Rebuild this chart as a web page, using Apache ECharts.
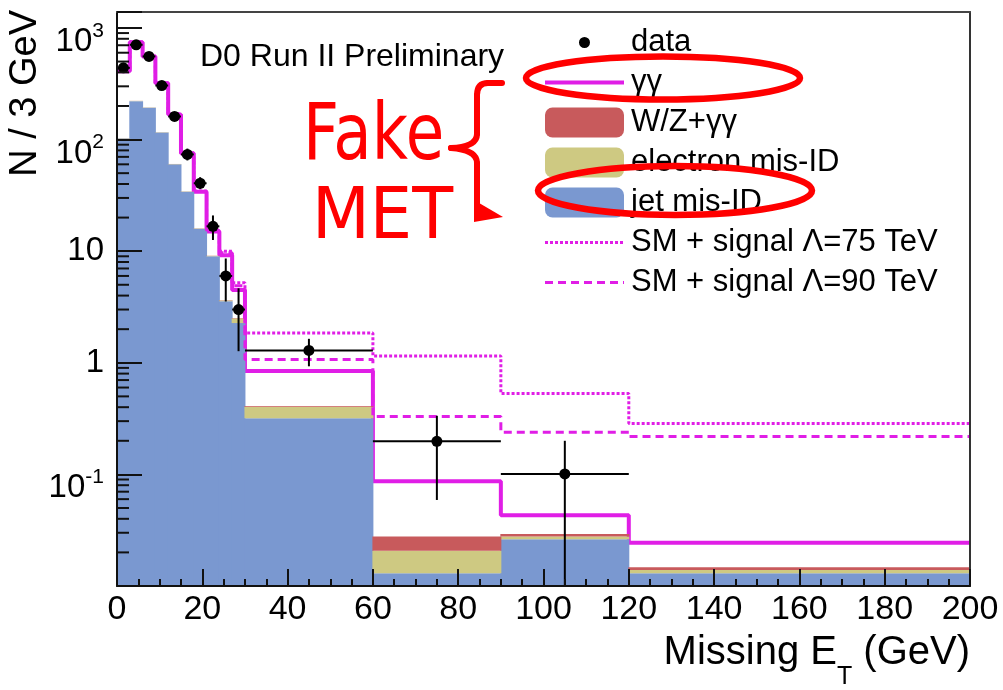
<!DOCTYPE html>
<html><head><meta charset="utf-8">
<script src="https://cdn.jsdelivr.net/npm/echarts@6/dist/echarts.min.js"></script>
<style>html,body{margin:0;padding:0;background:#fff}#c{width:1003px;height:690px}</style>
</head><body><div id="c"></div><script>
// ---- data ----
const BIN_EDGES = [0, 3, 6, 9, 12, 15, 18, 21, 24, 27, 30, 60, 90, 120, 200];
const JET_MISID = [102, 221, 193, 116, 60, 34, 15.9, 9.0, 3.56, 2.27, 0.319, 0.0130, 0.0262, 0.0130];
const ELECTRON_MISID = [0.6, 1.2, 1.0, 0.6, 0.35, 0.2, 0.12, 0.08, 0.06, 0.23, 0.084, 0.0077, 0.0015, 0.0009];
const WZ_GG = [0.15, 0.3, 0.25, 0.15, 0.1, 0.06, 0.04, 0.03, 0.02, 0.02, 0.008, 0.007, 0.0015, 0.0008];
const GG_TOTAL = [410, 745, 556, 320, 168, 75, 34, 15, 9.2, 4.5, 0.843, 0.0866, 0.0431, 0.0244];
const SIGNAL_75 = [412, 748, 559, 322, 170, 76, 34.6, 15.6, 10.0, 5.2, 1.85, 1.15, 0.53, 0.286];
const SIGNAL_90 = [411, 747, 558, 321, 169, 75.5, 34.3, 15.3, 9.7, 4.9, 1.07, 0.331, 0.238, 0.218];
const DATA_X = [1.5, 4.5, 7.5, 10.5, 13.5, 16.5, 19.5, 22.5, 25.5, 28.5, 45, 75, 105];
const DATA_XLO = [0, 3, 6, 9, 12, 15, 18, 21, 24, 27, 30, 60, 90];
const DATA_XHI = [3, 6, 9, 12, 15, 18, 21, 24, 27, 30, 60, 90, 120];
const DATA_Y = [439, 707, 556, 305, 161, 73.6, 40.6, 16.7, 6.0, 3.0, 1.29, 0.198, 0.101];
const DATA_LO = [418, 680, 533, 288, 149, 65, 36, 12.6, 3.54, 1.27, 0.93, 0.059, 0];
const DATA_HI = [460, 734, 580, 322, 174, 83, 46, 20.9, 8.6, 4.65, 1.64, 0.335, 0.2];
const X_MIN = 0, X_MAX = 200, X_INTERVAL = 20;
const Y_MIN = 0.01, Y_MAX = 1390;
const Y_DECADES = [0.01, 0.1, 1, 10, 100, 1000];
const Y_MINOR_MULT = [2, 3, 4, 5, 6, 7, 8, 9];
const LEGEND_NAMES = ['data', 'γγ', 'W/Z+γγ', 'electron mis-ID', 'jet mis-ID', 'SM + signal Λ=75 TeV', 'SM + signal Λ=90 TeV'];

// ---- styles ----
const FONT = 'Liberation Sans';
const C_BLUE = '#7a98d0', C_YEL = '#cec982', C_RED = '#c85a5c', C_MAG = '#e01ee6', C_ANN = '#ff0000', C_TICK = '#111';

function stepData(vals) {
  const pts = vals.map((v, i) => [BIN_EDGES[i], v]);
  pts.push([BIN_EDGES[BIN_EDGES.length - 1], vals[vals.length - 1]]);
  return pts;
}
function layerRows(lower, upper) {
  return upper.map((u, i) => [BIN_EDGES[i], BIN_EDGES[i + 1], lower ? lower[i] : Y_MIN, u]);
}
const cumJet = JET_MISID.slice();
const cumEl = JET_MISID.map((v, i) => v + ELECTRON_MISID[i]);
const cumWz = cumEl.map((v, i) => v + WZ_GG[i]);
const minorTickVals = [];
Y_DECADES.forEach(d => Y_MINOR_MULT.forEach(m => { if (d * m < Y_MAX) minorTickVals.push([X_MIN, d * m]); }));

function renderRect(params, api) {
  const p0 = api.coord([api.value(0), api.value(3)]);
  const p1 = api.coord([api.value(1), Math.max(api.value(2), Y_MIN)]);
  const col = api.visual('color');
  return { type: 'rect', shape: { x: p0[0] - 0.5, y: p0[1], width: p1[0] - p0[0] + 1, height: p1[1] - p0[1] },
           style: { fill: col } };
}
function renderData(params, api) {
  const xc = api.value(0), y = api.value(1);
  const pC = api.coord([xc, y]);
  const pL = api.coord([api.value(2), y]);
  const pR = api.coord([api.value(3), y]);
  const pLo = api.coord([xc, Math.max(api.value(4), Y_MIN)]);
  const pHi = api.coord([xc, api.value(5)]);
  return { type: 'group', children: [
    { type: 'line', shape: { x1: pL[0], y1: pC[1], x2: pR[0], y2: pC[1] }, style: { stroke: '#000', lineWidth: 2 } },
    { type: 'line', shape: { x1: pC[0], y1: pLo[1], x2: pC[0], y2: pHi[1] }, style: { stroke: '#000', lineWidth: 2 } },
    { type: 'circle', shape: { cx: pC[0], cy: pC[1], r: 5.5 }, style: { fill: '#000' } }
  ] };
}
function renderMinorTick(params, api) {
  const p = api.coord([api.value(0), api.value(1)]);
  return { type: 'line', z2: 50, shape: { x1: p[0], y1: p[1], x2: p[0] + 12, y2: p[1] }, style: { stroke: C_TICK, lineWidth: 2 } };
}
function yFmt(v) {
  const l = Math.log10(v), e = Math.round(l);
  if (Math.abs(l - e) > 1e-6 || e < -1) return '';
  if (e === 0) return '{n|1}';
  if (e === 1) return '{n|10}';
  return '{b|10}{s|' + e + '}';
}
const annStroke = { fill: 'none', stroke: C_ANN, lineWidth: 6, lineCap: 'round' };
const noSym = { opacity: 0 };

const chart = echarts.init(document.getElementById('c'), null, { renderer: 'canvas' });
const option = {
  animation: false,
  backgroundColor: '#fff',
  textStyle: { fontFamily: FONT },
  title: { text: 'D0 Run II Preliminary', left: 200, top: 41, padding: 0,
           textStyle: { fontSize: 32, fontWeight: 'normal', fontFamily: FONT, color: '#000' } },
  legend: {
    left: 538, top: 22, orient: 'vertical', itemWidth: 79, itemHeight: 30, itemGap: 9,
    selectedMode: false,
    textStyle: { fontSize: 31, fontFamily: FONT, color: '#000', padding: [0, 0, 0, 2] },
    lineStyle: { width: 'inherit' },
    data: [
      { name: LEGEND_NAMES[0], icon: 'path://M0,0L0.01,0M79,30L79.01,30M34,15A5.5,5.5,0,1,1,45,15A5.5,5.5,0,1,1,34,15Z' },
      { name: LEGEND_NAMES[1], itemStyle: noSym },
      LEGEND_NAMES[2], LEGEND_NAMES[3], LEGEND_NAMES[4],
      { name: LEGEND_NAMES[5], itemStyle: noSym },
      { name: LEGEND_NAMES[6], itemStyle: noSym }
    ]
  },
  grid: { left: 117, right: 33, top: 12, bottom: 102 },
  xAxis: [{
    type: 'value', min: X_MIN, max: X_MAX, interval: X_INTERVAL, z: 10,
    axisLine: { onZero: false, lineStyle: { color: C_TICK, width: 2 } },
    axisTick: { inside: true, length: 17, lineStyle: { color: C_TICK, width: 2 } },
    minorTick: { show: true, splitNumber: 4, length: 7, lineStyle: { color: C_TICK, width: 2 } },
    splitLine: { show: false },
    axisLabel: { margin: 7, fontSize: 34, fontFamily: FONT, color: '#000', showMinLabel: true, showMaxLabel: true, hideOverlap: false },
    name: '{m|Missing E}{t|T}{m| (GeV)}', nameLocation: 'end', nameGap: 0,
    nameTextStyle: { align: 'right', verticalAlign: 'top', padding: [47, 0, 0, 0], color: '#000', fontFamily: FONT,
      rich: { m: { fontSize: 40, lineHeight: 40, verticalAlign: 'top', fontFamily: FONT, color: '#000' },
              t: { fontSize: 25, lineHeight: 25, verticalAlign: 'top', padding: [32, 0, 0, 0], fontFamily: FONT, color: '#000' } } }
  }, {
    type: 'value', position: 'top', min: X_MIN, max: X_MAX, z: 10,
    axisLine: { show: true, onZero: false, lineStyle: { color: '#444', width: 2 } },
    axisTick: { show: false }, axisLabel: { show: false }, splitLine: { show: false }
  }],
  yAxis: [{
    type: 'log', logBase: 10, min: Y_MIN, max: Y_MAX, z: 10,
    axisLine: { show: true, onZero: false, lineStyle: { color: C_TICK, width: 2 } },
    axisTick: { show: true, inside: true, length: 25, lineStyle: { color: C_TICK, width: 2 } },
    minorTick: { show: false },
    splitLine: { show: false },
    axisLabel: { margin: 13, fontSize: 33, fontFamily: FONT, color: '#000', showMinLabel: true, showMaxLabel: true, hideOverlap: false,
      formatter: yFmt,
      rich: { n: { fontSize: 33, fontFamily: FONT, color: '#000' },
              b: { fontSize: 33, lineHeight: 33, verticalAlign: 'top', padding: [14, 0, 0, 0], fontFamily: FONT, color: '#000' },
              s: { fontSize: 21, lineHeight: 21, verticalAlign: 'top', padding: [9, 0, 0, 0], fontFamily: FONT, color: '#000' } } },
    name: 'N / 3 GeV', nameLocation: 'end', nameGap: 2, nameRotate: 90,
    nameTextStyle: { fontSize: 38, fontFamily: FONT, color: '#000', align: 'right', verticalAlign: 'bottom', padding: [0, 0, 72, 0] }
  }, {
    type: 'log', logBase: 10, min: Y_MIN, max: Y_MAX, position: 'right', z: 10,
    axisLine: { show: true, onZero: false, lineStyle: { color: '#333', width: 2 } },
    axisTick: { show: false }, axisLabel: { show: false }, splitLine: { show: false }
  }],
  series: [
    { name: LEGEND_NAMES[1], type: 'line', step: 'end', data: stepData(GG_TOTAL), symbol: 'none', z: 2,
      lineStyle: { color: C_MAG, width: 4 }, itemStyle: { color: C_MAG } },
    { name: LEGEND_NAMES[4], type: 'custom', renderItem: renderRect, data: layerRows(null, cumJet),
      encode: { x: [0, 1], y: [2, 3] }, itemStyle: { color: C_BLUE }, z: 3 },
    { name: LEGEND_NAMES[3], type: 'custom', renderItem: renderRect, data: layerRows(cumJet, cumEl),
      encode: { x: [0, 1], y: [2, 3] }, itemStyle: { color: C_YEL }, z: 3 },
    { name: LEGEND_NAMES[2], type: 'custom', renderItem: renderRect, data: layerRows(cumEl, cumWz),
      encode: { x: [0, 1], y: [2, 3] }, itemStyle: { color: C_RED }, z: 3 },
    { name: LEGEND_NAMES[5], type: 'line', step: 'end', data: stepData(SIGNAL_75), symbol: 'none', z: 4,
      lineStyle: { color: C_MAG, width: 3, type: [3, 2] }, itemStyle: { color: C_MAG } },
    { name: LEGEND_NAMES[6], type: 'line', step: 'end', data: stepData(SIGNAL_90), symbol: 'none', z: 4,
      lineStyle: { color: C_MAG, width: 3, type: [8, 5] }, itemStyle: { color: C_MAG } },
    { name: LEGEND_NAMES[0], type: 'custom', renderItem: renderData,
      data: DATA_X.map((x, i) => [x, DATA_Y[i], DATA_XLO[i], DATA_XHI[i], DATA_LO[i], DATA_HI[i]]),
      encode: { x: 0, y: 1 }, itemStyle: { color: '#000' }, z: 5 },
    { name: 'yMinorTicks', type: 'custom', renderItem: renderMinorTick, data: minorTickVals,
      encode: { x: 0, y: 1 }, silent: true, z: 11 }
  ],
  graphic: [
    { type: 'ellipse', z: 100, shape: { cx: 663, cy: 78, rx: 137, ry: 21.5 }, style: { fill: 'none', stroke: C_ANN, lineWidth: 6.5 } },
    { type: 'ellipse', z: 100, shape: { cx: 675, cy: 190.5, rx: 137, ry: 24.5 }, style: { fill: 'none', stroke: C_ANN, lineWidth: 6.5 } },
    { type: 'line', z: 100, shape: { x1: 502, y1: 83, x2: 488, y2: 83 }, style: annStroke },
    { type: 'bezierCurve', z: 100, shape: { x1: 488, y1: 83, cpx1: 477, cpy1: 83, x2: 477, y2: 95 }, style: annStroke },
    { type: 'line', z: 100, shape: { x1: 477, y1: 95, x2: 477, y2: 134 }, style: annStroke },
    { type: 'bezierCurve', z: 100, shape: { x1: 477, y1: 134, cpx1: 477, cpy1: 147, x2: 451, y2: 148 }, style: annStroke },
    { type: 'bezierCurve', z: 100, shape: { x1: 451, y1: 148, cpx1: 477, cpy1: 150, x2: 477, y2: 163 }, style: annStroke },
    { type: 'line', z: 100, shape: { x1: 477, y1: 163, x2: 477, y2: 208 }, style: annStroke },
    { type: 'polygon', z: 100, shape: { points: [[474, 200], [503, 217], [474, 222]] }, style: { fill: C_ANN } },
    { type: 'text', z: 100, x: 303, y: 139, scaleX: 1.08, scaleY: 1.34,
      style: { text: 'Fake', font: '58px "DejaVu Sans"', fill: C_ANN, align: 'left', verticalAlign: 'middle' } },
    { type: 'text', z: 100, x: 312, y: 219, scaleY: 1.065,
      style: { text: 'MET', font: '67px "DejaVu Sans"', fill: C_ANN, align: 'left', verticalAlign: 'middle' } }
  ]
};
chart.setOption(option);
</script></body></html>
